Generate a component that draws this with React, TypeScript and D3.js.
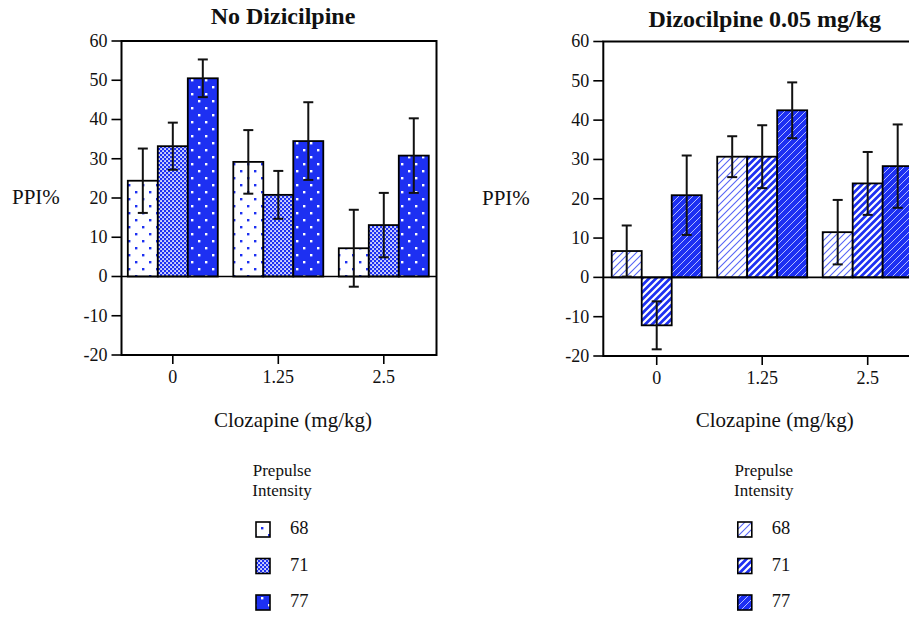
import React from "react"
import * as d3 from "d3"

// clozapine doses (x categories) and prepulse intensities (series)
const doses = ["0", "1.25", "2.5"]
const intensities = ["68", "71", "77"]

// PPI% means and error bars, one row per dose, one column per intensity
const noDizMeans = [
  [24.4, 33.2, 50.5],
  [29.2, 20.8, 34.5],
  [7.2, 13.1, 30.8],
]
const noDizErr = [
  [8.2, 6.0, 4.8],
  [8.1, 6.1, 9.9],
  [9.8, 8.2, 9.5],
]
const dizMeans = [
  [6.7, -12.2, 20.9],
  [30.7, 30.7, 42.5],
  [11.5, 23.9, 28.3],
]
const dizErr = [
  [6.5, 6.1, 10.1],
  [5.2, 8.0, 7.1],
  [8.2, 8.0, 10.6],
]
const yDomain = [-20, 60]

const BLUE = "#1d30f2"
const FONT = "'Liberation Serif', 'Times New Roman', serif"

function Patterns() {
  const hatch = "M-1,1 L1,-1 M0,7 L7,0 M6,8 L8,6"
  return (
    <defs>
      <pattern id="dotsW" width="14" height="14" patternUnits="userSpaceOnUse">
        <rect width="14" height="14" fill="#fff" />
        <rect x="2" y="2" width="2.4" height="2.4" fill={BLUE} />
        <rect x="9" y="9" width="2.4" height="2.4" fill={BLUE} />
      </pattern>
      <pattern id="checker" width="4" height="4" patternUnits="userSpaceOnUse">
        <rect width="4" height="4" fill={BLUE} />
        <rect x="0.2" y="0.2" width="1.7" height="1.7" fill="#fff" />
        <rect x="2.2" y="2.2" width="1.7" height="1.7" fill="#fff" />
      </pattern>
      <pattern id="dotsB" width="14" height="14" patternUnits="userSpaceOnUse">
        <rect width="14" height="14" fill={BLUE} />
        <rect x="2" y="2" width="2.4" height="2.4" fill="#fff" />
        <rect x="9" y="9" width="2.4" height="2.4" fill="#fff" />
      </pattern>
      <pattern id="hatchW" width="7" height="7" patternUnits="userSpaceOnUse">
        <rect width="7" height="7" fill="#fff" />
        <path d={hatch} stroke={BLUE} strokeWidth="1.1" opacity="0.75" />
      </pattern>
      <pattern id="hatchM" width="7" height="7" patternUnits="userSpaceOnUse">
        <rect width="7" height="7" fill={BLUE} />
        <path d={hatch} stroke="#fff" strokeWidth="2.2" />
      </pattern>
      <pattern id="hatchB" width="7" height="7" patternUnits="userSpaceOnUse">
        <rect width="7" height="7" fill={BLUE} />
        <path d={hatch} stroke="#b4bcff" strokeWidth="1" />
      </pattern>
    </defs>
  )
}

function Panel(props) {
  const { title, titleY, means, errs, fills, left, top, bottom, width, align, ylabelX } = props
  const right = left + width
  const cx = left + width / 2

  const y = d3.scaleLinear().domain(yDomain).range([bottom, top])
  const x0 = d3
    .scaleBand()
    .domain(doses)
    .range([left, right])
    .paddingInner(0.147)
    .paddingOuter(0.0665)
    .align(align)
  const x1 = d3.scaleBand().domain(intensities).range([0, x0.bandwidth()])
  const color = d3.scaleOrdinal().domain(intensities).range(fills)

  const bars = []
  const errBars = []
  doses.forEach((dose, i) => {
    intensities.forEach((s, j) => {
      const v = means[i][j]
      const e = errs[i][j]
      const bx = x0(dose) + x1(s)
      const mx = bx + x1.bandwidth() / 2
      bars.push(
        <rect
          key={dose + s}
          x={bx}
          y={y(Math.max(0, v))}
          width={x1.bandwidth()}
          height={Math.abs(y(v) - y(0))}
          fill={color(s)}
          stroke="#000"
          strokeWidth="1.8"
        />
      )
      errBars.push(
        <g key={"e" + dose + s} stroke="#111" strokeWidth="2">
          <line x1={mx} x2={mx} y1={y(v + e)} y2={y(v - e)} />
          <line x1={mx - 5} x2={mx + 5} y1={y(v + e)} y2={y(v + e)} />
          <line x1={mx - 5} x2={mx + 5} y1={y(v - e)} y2={y(v - e)} />
        </g>
      )
    })
  })

  const ticks = y.ticks(8)

  return (
    <g fontFamily={FONT} fill="#111">
      <text x={cx + 4} y={titleY} textAnchor="middle" fontSize="24" fontWeight="bold">
        {title}
      </text>
      <text x={ylabelX} y={y(20) + 6} fontSize="21">PPI%</text>

      {bars}
      <line x1={left} x2={right} y1={y(0)} y2={y(0)} stroke="#000" strokeWidth="1.6" />
      {errBars}
      <rect x={left} y={top} width={width} height={bottom - top} fill="none" stroke="#000" strokeWidth="2" />

      {ticks.map((t) => (
        <g key={"y" + t}>
          <line x1={left - 10} x2={left} y1={y(t)} y2={y(t)} stroke="#000" strokeWidth="1.6" />
          <text x={left - 14} y={y(t)} dy="0.33em" textAnchor="end" fontSize="18">
            {t}
          </text>
        </g>
      ))}
      {doses.map((d) => {
        const tx = x0(d) + x0.bandwidth() / 2
        return (
          <g key={"x" + d}>
            <line x1={tx} x2={tx} y1={bottom} y2={bottom + 9} stroke="#000" strokeWidth="1.6" />
            <text x={tx} y={bottom + 28} textAnchor="middle" fontSize="18">
              {d}
            </text>
          </g>
        )
      })}
      <text x={cx + 14} y={427} textAnchor="middle" fontSize="21">
        Clozapine (mg/kg)
      </text>

      <text x={cx + 3} y={476} textAnchor="middle" fontSize="17">Prepulse</text>
      <text x={cx + 3} y={496} textAnchor="middle" fontSize="17">Intensity</text>
      {intensities.map((s, j) => {
        const ly = 522 + j * 36.5
        return (
          <g key={"l" + s}>
            <rect x={cx - 23} y={ly} width={14} height={15} fill={color(s)} stroke="#000" strokeWidth="1.6" />
            <text x={cx + 11} y={ly + 12} fontSize="18.5">{s}</text>
          </g>
        )
      })}
    </g>
  )
}

export default function App() {
  return (
    <svg
      width={909}
      height={617}
      style={{ position: "absolute", left: 0, top: 0, background: "#fff" }}
    >
      <Patterns />
      <Panel
        title="No Dizicilpine"
        titleY={24}
        means={noDizMeans}
        errs={noDizErr}
        fills={["url(#dotsW)", "url(#checker)", "url(#dotsB)"]}
        left={121.5}
        top={41}
        bottom={355}
        width={315}
        align={0.45}
        ylabelX={12}
      />
      <Panel
        title="Dizocilpine 0.05 mg/kg"
        titleY={27}
        means={dizMeans}
        errs={dizErr}
        fills={["url(#hatchW)", "url(#hatchM)", "url(#hatchB)"]}
        left={603.3}
        top={41.5}
        bottom={356}
        width={315}
        align={0.6}
        ylabelX={482}
      />
    </svg>
  )
}
